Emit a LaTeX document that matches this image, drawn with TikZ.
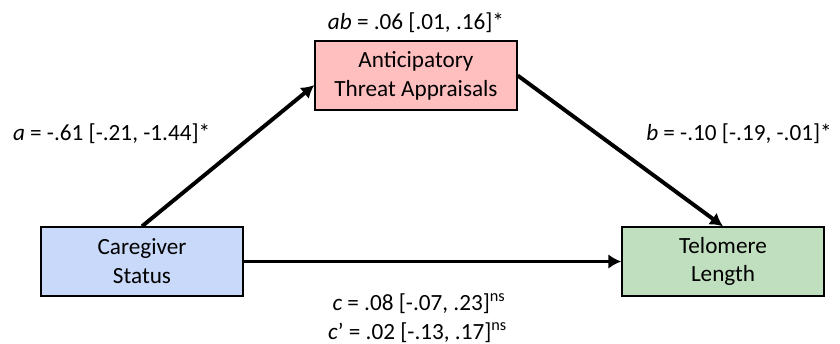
\documentclass[tikz,border=0pt]{standalone}
\usepackage{fontspec}
\setmainfont{Carlito}
\usetikzlibrary{arrows.meta, positioning}
\definecolor{carecolour}{HTML}{C9D9F9}
\definecolor{threatcolour}{HTML}{FFBFBF}
\definecolor{telocolour}{HTML}{C0DFBF}
\tikzstyle{varbox} = [rectangle, minimum width=5.05cm, minimum height=1.725cm, text centered, align=center, draw=black, line width=1pt, font=\fontsize{16.5}{20.5}\selectfont]
\tikzstyle{effect} = [line width=2.8pt, -{Latex[length=0.32cm,width=0.36cm]}]
\tikzstyle{coef} = [inner sep=0pt, anchor=base, font=\fontsize{16.5}{20.5}\selectfont]

\begin{document}
\begin{tikzpicture}
	\useasboundingbox (0,0) rectangle (21,-8.6);
	\node (care) [varbox, fill=carecolour] at (3.55,-6.5375) {Caregiver\\Status};
	\node (threat) [varbox, fill=threatcolour, above of=care, xshift=6.85cm, yshift=3.65cm] {Anticipatory\\Threat Appraisals};
	\node (telo) [varbox, fill=telocolour, right of=care, xshift=13.525cm] {Telomere\\Length};
	
	\node (ablab) [coef] at (10.4,-0.725) {\textit{ab} = .06 [.01, .16]*};
	\node (alab) [coef] at (2.79,-3.5) {\textit{a} = -.61 [-.21, -1.44]*};
	\node (blab) [coef] at (18.475,-3.5) {\textit{b} = -.10 [-.19, -.01]*};
	\node (clab) [coef] at (10.475,-7.75) {\textit{c} = .08 [-.07, .23]\textsuperscript{ns}};
	\node (cplab) [coef] at (10.44,-8.475) {\textit{c}’ = .02 [-.13, .17]\textsuperscript{ns}};
	
	\draw [effect] (care.north) -- ([yshift=-0.24cm]threat.west);
	\draw [effect] (threat.east) -- (telo.north);
	\draw [effect] (care.east) -- (telo.west);
\end{tikzpicture}
\end{document}
